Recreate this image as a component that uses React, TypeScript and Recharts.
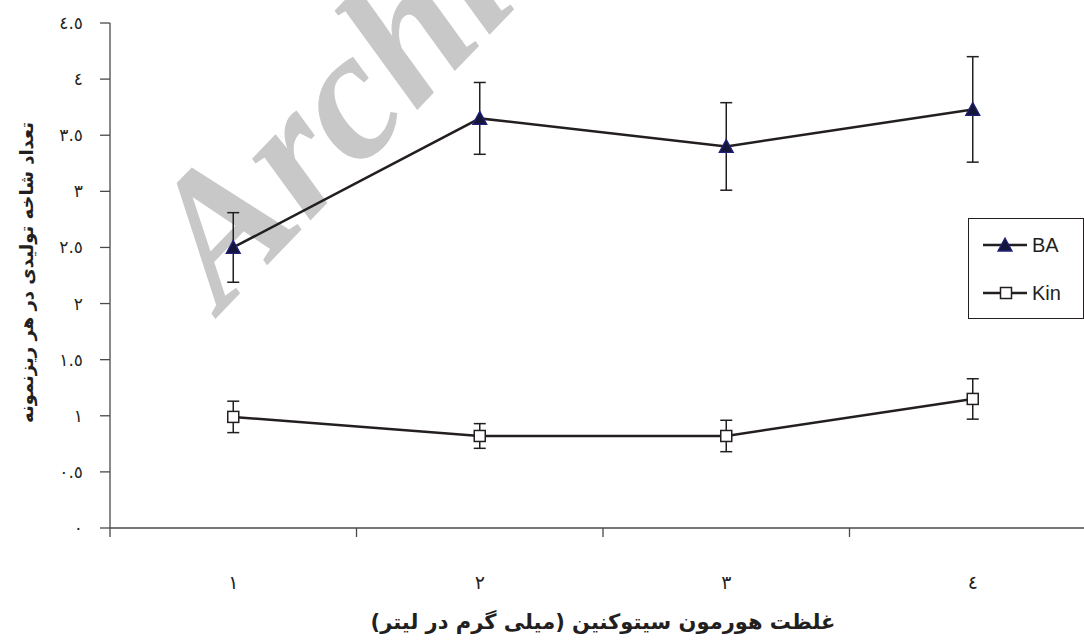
import React from 'react';
import { LineChart, Line, XAxis, YAxis, ErrorBar, Legend } from 'recharts';

const doses = [1, 2, 3, 4];
const baValues = [2.5, 3.65, 3.4, 3.73];
const baErrors = [0.31, 0.32, 0.39, 0.47];
const kinValues = [0.99, 0.82, 0.82, 1.15];
const kinErrors = [0.14, 0.11, 0.14, 0.18];
const yTicks = [0, 0.5, 1, 1.5, 2, 2.5, 3, 3.5, 4, 4.5];
const xTicks = [0.5, 1, 1.5, 2, 2.5, 3, 3.5, 4, 4.5];
const seriesNames = ['BA', 'Kin'];
const yTitle = 'تعداد شاخه تولیدی در هر ریزنمونه';
const xTitle = 'غلظت هورمون سیتوکنین (میلی گرم در لیتر)';
const watermark = 'Archive of SID';

const toArabicDigits = (v: number | string) =>
  String(v).replace(/\d/g, (d) => '٠١٢٣٤٥٦٧٨٩'[Number(d)]);

const data = doses.map((d, i) => ({
  dose: d,
  ba: baValues[i],
  baErr: baErrors[i],
  kin: kinValues[i],
  kinErr: kinErrors[i],
}));

const INK = '#231f20';
const AXIS = '#4a4a4a';
const ARABIC_FONT = '"DejaVu Sans", sans-serif';
const LATIN_FONT = '"Liberation Sans", Arial, sans-serif';

function TriangleDot(props: any) {
  const { cx, cy } = props;
  if (cx == null || cy == null) return null;
  return (
    <path
      d={`M${cx},${cy - 7} L${cx + 7},${cy + 6} L${cx - 7},${cy + 6} Z`}
      fill="#15153a"
      stroke="#20207a"
      strokeWidth={1.3}
    />
  );
}

function SquareDot(props: any) {
  const { cx, cy } = props;
  if (cx == null || cy == null) return null;
  return (
    <rect x={cx - 5.5} y={cy - 5.5} width={11} height={11} fill="#fff" stroke={INK} strokeWidth={1.5} />
  );
}

function XTick(props: any) {
  const { x, y, payload } = props;
  const v = payload.value;
  if (Number.isInteger(v)) {
    return (
      <text x={x} y={y + 54} textAnchor="middle" dominantBaseline="central" fontFamily={ARABIC_FONT} fontSize={19} fill={INK}>
        {toArabicDigits(v)}
      </text>
    );
  }
  return <line x1={x} y1={y} x2={x} y2={y + 9} stroke={AXIS} strokeWidth={1.3} />;
}

function XTitle(props: any) {
  const vb = props.viewBox || {};
  const cx = vb.x + vb.width / 2;
  return (
    <text x={cx} y={vb.y + 94} textAnchor="middle" dominantBaseline="central" direction="rtl" fontFamily={ARABIC_FONT} fontWeight="bold" fontSize={21} fill={INK}>
      {xTitle}
    </text>
  );
}

function YTitle(props: any) {
  const vb = props.viewBox || {};
  const cx = vb.x + 26;
  const cy = vb.y + vb.height / 2 - 3;
  return (
    <text x={cx} y={cy} transform={`rotate(-90 ${cx} ${cy})`} textAnchor="middle" dominantBaseline="central" direction="rtl" fontFamily={ARABIC_FONT} fontWeight="bold" fontSize={18} fill={INK}>
      {yTitle}
    </text>
  );
}

function LegendBox(props: any) {
  const payload = (props.payload && props.payload.length ? props.payload : seriesNames.map((n) => ({ value: n }))) as any[];
  const rows = [27, 75];
  return (
    <svg width={116} height={101} style={{ display: 'block' }}>
      <rect x={0.5} y={0.5} width={115} height={100} fill="#fff" stroke={INK} strokeWidth={1} />
      {payload.map((p, i) => {
        const y = rows[i];
        const isBA = p.value === 'BA';
        return (
          <g key={p.value}>
            <line x1={15} y1={y} x2={59} y2={y} stroke={INK} strokeWidth={2.5} />
            {isBA ? <TriangleDot cx={37} cy={y} /> : <SquareDot cx={38} cy={y} />}
            <text x={64} y={y} dominantBaseline="central" fontFamily={LATIN_FONT} fontSize={20} fill={INK}>
              {p.value}
            </text>
          </g>
        );
      })}
    </svg>
  );
}

export default function App() {
  return (
    <div style={{ position: 'absolute', left: 0, top: 0, width: 1084, height: 640, overflow: 'hidden', background: '#fff' }}>
      <svg style={{ position: 'absolute', left: 0, top: 0 }} width={1084} height={640}>
        <text
          x={222}
          y={312}
          transform="rotate(-46 222 312)"
          fontFamily='"Liberation Serif", serif'
          fontStyle="italic"
          fontWeight="bold"
          fontSize={185}
          fill="#c8c8c8"
        >
          {watermark}
        </text>
      </svg>
      <div style={{ position: 'absolute', left: 0, top: 0 }}>
        <LineChart width={1110} height={640} data={data} margin={{ top: 23, right: 14, bottom: 0, left: 0 }}>
          <XAxis
            dataKey="dose"
            type="number"
            domain={[0.5, 4.5]}
            ticks={xTicks}
            interval={0}
            tick={<XTick />}
            tickLine={false}
            tickSize={0}
            tickMargin={0}
            height={112}
            axisLine={{ stroke: AXIS, strokeWidth: 1.3 }}
            label={{ content: <XTitle /> }}
            allowDataOverflow
          />
          <YAxis
            type="number"
            domain={[0, 4.5]}
            ticks={yTicks}
            interval={0}
            width={110}
            tickSize={10}
            tickMargin={17}
            tickFormatter={toArabicDigits}
            tick={{ fontFamily: ARABIC_FONT, fontSize: 17, fill: INK }}
            axisLine={{ stroke: AXIS, strokeWidth: 1.3 }}
            tickLine={{ stroke: AXIS, strokeWidth: 1.3 }}
            label={{ content: <YTitle /> }}
            allowDataOverflow
          />
          <Legend
            layout="vertical"
            align="center"
            verticalAlign="middle"
            content={<LegendBox />}
            wrapperStyle={{ left: 968, top: 218, width: 116, height: 101 }}
          />
          <Line
            dataKey="ba"
            name="BA"
            stroke={INK}
            strokeWidth={2.5}
            dot={<TriangleDot />}
            activeDot={false}
            isAnimationActive={false}
          >
            <ErrorBar dataKey="baErr" direction="y" width={6} stroke={INK} strokeWidth={1.5} isAnimationActive={false} />
          </Line>
          <Line
            dataKey="kin"
            name="Kin"
            stroke={INK}
            strokeWidth={2.5}
            dot={<SquareDot />}
            activeDot={false}
            isAnimationActive={false}
          >
            <ErrorBar dataKey="kinErr" direction="y" width={6} stroke={INK} strokeWidth={1.5} isAnimationActive={false} />
          </Line>
        </LineChart>
      </div>
    </div>
  );
}
